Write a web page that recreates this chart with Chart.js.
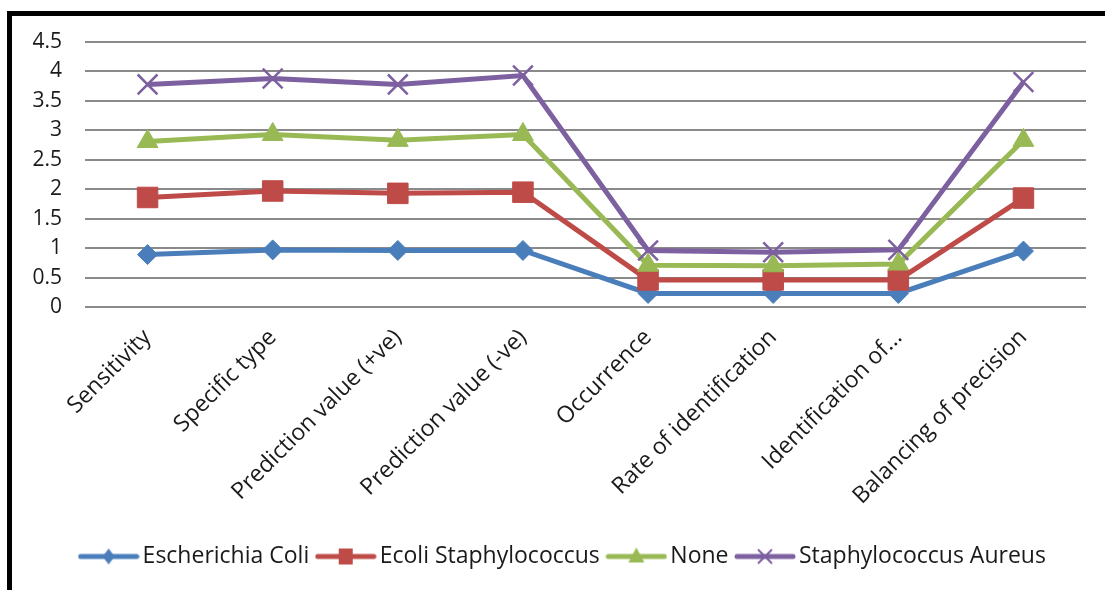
<!DOCTYPE html>
<html>
<head>
<meta charset="utf-8">
<script src="https://cdn.jsdelivr.net/npm/chart.js@4.4.1/dist/chart.umd.min.js"></script>
<style>
  html, body { margin: 0; padding: 0; background: #fff; }
  body { width: 1105px; height: 590px; position: relative; overflow: hidden; }
  #frame {
    position: absolute; left: 7px; top: 11px;
    width: 1098px; height: 579px;
    border-left: 5px solid #000; border-top: 5px solid #000;
    box-sizing: border-box; background: #fff;
  }
  #chart { display: block; }
</style>
</head>
<body>
<div id="frame"><canvas id="chart" width="1093" height="574"></canvas></div>
<script>
// Diagnostic measures along the category axis
const categories = [
  'Sensitivity', 'Specific type', 'Prediction value (+ve)', 'Prediction value (-ve)',
  'Occurrence', 'Rate of identification', 'Identification of...', 'Balancing of precision'
];

// Plotted level of each series per measure
const escherichiaColi      = [0.89, 0.97, 0.96, 0.96, 0.23, 0.23, 0.23, 0.95];
const ecoliStaphylococcus  = [1.86, 1.97, 1.93, 1.95, 0.46, 0.46, 0.46, 1.85];
const noneGroup            = [2.81, 2.93, 2.83, 2.93, 0.71, 0.70, 0.73, 2.83];
const staphylococcusAureus = [3.78, 3.88, 3.78, 3.93, 0.96, 0.93, 0.97, 3.82];

const seriesNames = ['Escherichia Coli', 'Ecoli Staphylococcus', 'None', 'Staphylococcus Aureus'];

// Value axis ticks and their labels
const yTickValues = [0, 0.5, 1, 1.5, 2, 2.5, 3, 3.5, 4, 4.5];
const yTickLabels = ['0', '0.5', '1', '1.5', '2', '2.5', '3', '3.5', '4', '4.5'];

const COLORS = ['#4A7EBB', '#BE4B48', '#98B954', '#7D60A0'];
const FONT = '"Open Sans", "Noto Sans", sans-serif';

// Legend swatch: a short line with the series marker in its middle
function legendSwatch(color, shape) {
  const w = 62, h = 24;
  const c = document.createElement('canvas');
  c.width = w; c.height = h;
  const g = c.getContext('2d');
  const cx = w / 2, cy = h / 2;
  g.strokeStyle = color; g.fillStyle = color;
  g.lineWidth = 5; g.lineCap = 'round';
  g.beginPath(); g.moveTo(3, cy); g.lineTo(w - 3, cy); g.stroke();
  g.beginPath();
  if (shape === 'diamond') {
    g.moveTo(cx, cy - 8); g.lineTo(cx + 6, cy); g.lineTo(cx, cy + 8); g.lineTo(cx - 6, cy);
    g.closePath(); g.fill();
  } else if (shape === 'square') {
    g.rect(cx - 7, cy - 8, 14, 16); g.fill();
  } else if (shape === 'triangle') {
    g.moveTo(cx, cy - 9); g.lineTo(cx + 8, cy + 6); g.lineTo(cx - 8, cy + 6);
    g.closePath(); g.fill();
  } else {
    g.lineWidth = 2; g.lineCap = 'butt';
    g.moveTo(cx - 7, cy - 7); g.lineTo(cx + 7, cy + 7);
    g.moveTo(cx + 7, cy - 7); g.lineTo(cx - 7, cy + 7);
    g.stroke();
  }
  return c;
}

const swatches = [
  legendSwatch(COLORS[0], 'diamond'),
  legendSwatch(COLORS[1], 'square'),
  legendSwatch(COLORS[2], 'triangle'),
  legendSwatch(COLORS[3], 'cross')
];

function lineSeries(i, data, pointStyle, radius, pointBorderWidth) {
  return {
    label: seriesNames[i],
    data: data,
    borderColor: COLORS[i],
    backgroundColor: COLORS[i],
    borderWidth: 5,
    tension: 0,
    pointStyle: pointStyle,
    pointRadius: radius,
    pointHoverRadius: radius,
    pointBackgroundColor: COLORS[i],
    pointBorderColor: COLORS[i],
    pointBorderWidth: pointBorderWidth,
    order: 4 - i,
    fill: false
  };
}

// Nudges the legend row to the right of the canvas centre
const legendShift = {
  id: 'legendShift',
  afterLayout(chart) {
    if (chart.legend) {
      chart.legend.left += 17;
      chart.legend.right += 17;
    }
  }
};

Chart.defaults.font.family = FONT;
Chart.defaults.color = '#1a1a1a';

new Chart(document.getElementById('chart'), {
  type: 'line',
  data: {
    labels: categories,
    datasets: [
      lineSeries(0, escherichiaColi, 'rectRot', 10, 1),
      lineSeries(1, ecoliStaphylococcus, 'rect', 14.5, 1),
      lineSeries(2, noneGroup, 'triangle', 12, 1),
      lineSeries(3, staphylococcusAureus, 'crossRot', 14, 2.5)
    ]
  },
  plugins: [legendShift],
  options: {
    responsive: false,
    animation: false,
    devicePixelRatio: 1,
    layout: { padding: { left: 0, right: 19, top: 26, bottom: 12 } },
    plugins: {
      tooltip: { enabled: false },
      legend: {
        position: 'bottom',
        align: 'center',
        labels: {
          usePointStyle: true,
          pointStyleWidth: 45,
          padding: 14,
          font: { size: 23, family: FONT },
          color: '#1a1a1a',
          sort: (a, b) => a.datasetIndex - b.datasetIndex,
          generateLabels: (chart) => chart.data.datasets.map((ds, i) => ({
            text: ds.label,
            datasetIndex: i,
            pointStyle: swatches[i],
            fillStyle: ds.borderColor,
            strokeStyle: ds.borderColor,
            lineWidth: 0,
            hidden: false,
            fontColor: '#1a1a1a'
          }))
        }
      }
    },
    scales: {
      x: {
        offset: true,
        grid: { display: false, drawTicks: false },
        border: { display: false },
        ticks: {
          minRotation: 45, maxRotation: 45,
          padding: 17,
          autoSkip: false,
          font: { size: 23, family: FONT },
          color: '#1a1a1a'
        },
        afterFit: (s) => { s.height = 224; }
      },
      y: {
        min: 0, max: 4.5,
        grid: {
          color: '#8a8a8a', lineWidth: 2,
          drawTicks: true, tickLength: 23, tickColor: 'rgba(0,0,0,0)'
        },
        border: { display: false },
        afterBuildTicks: (s) => { s.ticks = yTickValues.map(v => ({ value: v })); },
        ticks: {
          autoSkip: false,
          padding: 0,
          font: { size: 21, family: FONT },
          color: '#1a1a1a',
          callback: (v) => yTickLabels[yTickValues.indexOf(v)]
        },
        afterFit: (s) => { s.width = 73; }
      }
    }
  }
});
</script>
</body>
</html>
